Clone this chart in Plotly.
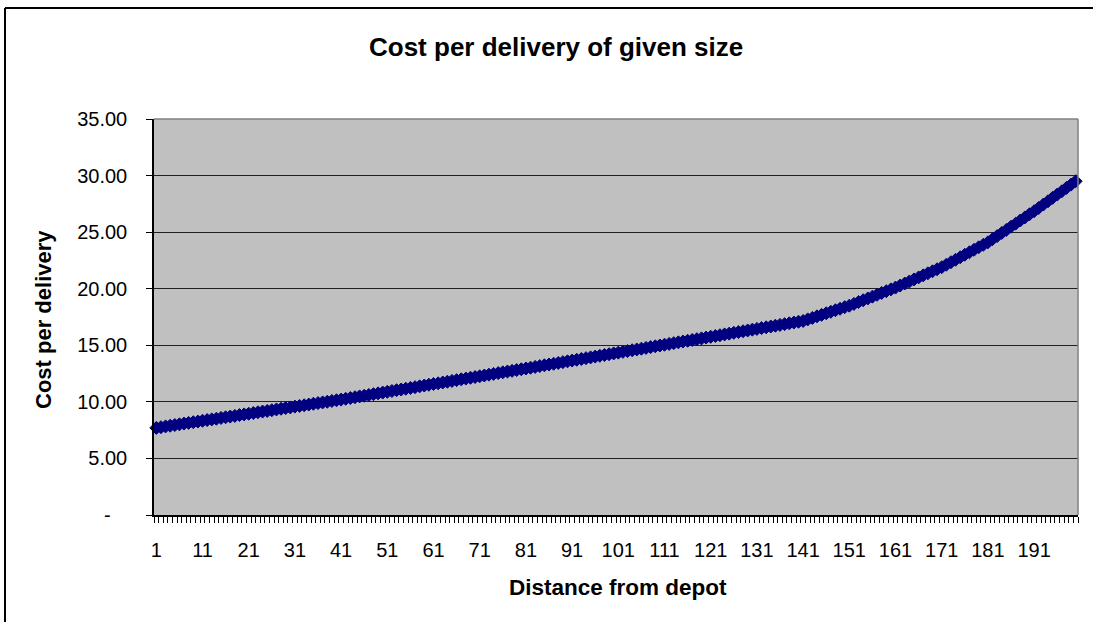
import plotly.graph_objects as go

distance = list(range(1, 201))
cost = [
    7.70, 7.76, 7.83, 7.89, 7.95, 8.01, 8.08, 8.14, 8.20, 8.26,
    8.33, 8.39, 8.45, 8.51, 8.58, 8.64, 8.70, 8.76, 8.83, 8.89,
    8.95, 9.01, 9.08, 9.14, 9.20, 9.26, 9.33, 9.39, 9.45, 9.51,
    9.58, 9.64, 9.70, 9.76, 9.83, 9.89, 9.95, 10.01, 10.08, 10.14,
    10.20, 10.27, 10.34, 10.41, 10.48, 10.54, 10.61, 10.68, 10.75, 10.82,
    10.89, 10.96, 11.03, 11.09, 11.16, 11.23, 11.30, 11.37, 11.44, 11.51,
    11.58, 11.64, 11.71, 11.78, 11.85, 11.92, 11.99, 12.06, 12.13, 12.19,
    12.26, 12.33, 12.40, 12.47, 12.54, 12.61, 12.68, 12.74, 12.81, 12.88,
    12.95, 13.02, 13.09, 13.16, 13.23, 13.30, 13.37, 13.44, 13.51, 13.58,
    13.65, 13.72, 13.79, 13.86, 13.93, 14.00, 14.07, 14.14, 14.21, 14.28,
    14.35, 14.42, 14.49, 14.56, 14.63, 14.70, 14.77, 14.84, 14.91, 14.98,
    15.05, 15.12, 15.19, 15.26, 15.33, 15.40, 15.47, 15.54, 15.61, 15.68,
    15.75, 15.82, 15.89, 15.96, 16.03, 16.10, 16.17, 16.24, 16.31, 16.38,
    16.45, 16.52, 16.59, 16.66, 16.73, 16.80, 16.87, 16.94, 17.01, 17.08,
    17.15, 17.29, 17.42, 17.56, 17.69, 17.83, 17.96, 18.10, 18.23, 18.37,
    18.50, 18.66, 18.82, 18.98, 19.14, 19.30, 19.46, 19.62, 19.78, 19.94,
    20.10, 20.28, 20.46, 20.64, 20.82, 21.00, 21.18, 21.36, 21.54, 21.72,
    21.90, 22.12, 22.34, 22.56, 22.78, 23.00, 23.22, 23.44, 23.66, 23.88,
    24.10, 24.38, 24.65, 24.93, 25.20, 25.48, 25.75, 26.03, 26.30, 26.58,
    26.85, 27.14, 27.44, 27.73, 28.03, 28.32, 28.61, 28.91, 29.20, 29.50,
]

x_tick_vals = list(range(1, 201, 10))
x_tick_text = [str(v) for v in x_tick_vals]
y_tick_vals = [0, 5, 10, 15, 20, 25, 30, 35]
y_tick_text = ["-\u00a0\u00a0\u00a0", "5.00", "10.00", "15.00", "20.00", "25.00", "30.00", "35.00"]

W, H = 1093, 622
L, R, T, B = 154, 1078, 119, 515


def px(xp):
    return (xp - L) / (R - L)


def py(yp):
    return (B - yp) / (B - T)


FONT = "Liberation Sans, Arial, sans-serif"

fig = go.Figure()
fig.add_trace(go.Scatter(
    x=distance, y=cost, mode="lines+markers",
    line=dict(color="#000080", width=2.5),
    marker=dict(symbol="diamond", size=10, color="#000080",
                line=dict(color="#000080", width=1)),
    showlegend=False, cliponaxis=False,
))

fig.update_layout(
    width=W, height=H,
    margin=dict(l=L, r=W - R, t=T, b=H - B),
    paper_bgcolor="white", plot_bgcolor="#C0C0C0",
    font=dict(family=FONT, size=20, color="black"),
    showlegend=False,
)

fig.update_xaxes(
    range=[0.5, 200.5], showgrid=False, zeroline=False,
    showline=True, linecolor="black", linewidth=1.5,
    tickmode="array", tickvals=x_tick_vals, ticktext=x_tick_text,
    ticks="outside", ticklen=16, tickcolor="rgba(0,0,0,0)",
    tickfont=dict(size=20, family=FONT),
    minor=dict(tick0=0.5, dtick=1, ticks="outside", ticklen=6,
               tickcolor="black", tickwidth=1, showgrid=False),
)
fig.update_yaxes(
    range=[0, 35], showgrid=True, gridcolor="#202020", gridwidth=1,
    zeroline=False, showline=True, linecolor="black", linewidth=1.5,
    tickmode="array", tickvals=y_tick_vals, ticktext=y_tick_text,
    ticks="outside", ticklen=6, tickcolor="black",
    tickfont=dict(size=20, family=FONT), ticklabelstandoff=15,
)

fig.add_shape(type="line", xref="paper", yref="paper",
              x0=0, x1=1, y0=1, y1=1, line=dict(color="#808080", width=1.5))
fig.add_shape(type="line", xref="paper", yref="paper",
              x0=1, x1=1, y0=0, y1=1, line=dict(color="#808080", width=1.5))
# outer chart frame (only its top and left edges fall inside the picture)
fig.add_shape(type="line", xref="paper", yref="paper",
              x0=px(5), x1=px(1093), y0=py(8), y1=py(8),
              line=dict(color="black", width=2))
fig.add_shape(type="line", xref="paper", yref="paper",
              x0=px(5), x1=px(5), y0=py(8), y1=py(622),
              line=dict(color="black", width=2))

fig.add_annotation(text="<b>Cost per delivery of given size</b>", xref="paper", yref="paper",
                   x=px(556), y=py(47), showarrow=False, xanchor="center", yanchor="middle",
                   font=dict(size=26, family=FONT))
fig.add_annotation(text="<b>Distance from depot</b>", xref="paper", yref="paper",
                   x=px(618), y=py(587), showarrow=False, xanchor="center", yanchor="middle",
                   font=dict(size=22.5, family=FONT))
fig.add_annotation(text="<b>Cost per delivery</b>", xref="paper", yref="paper",
                   x=px(43), y=py(320), showarrow=False, xanchor="center", yanchor="middle",
                   textangle=-90, font=dict(size=22, family=FONT))

fig.write_html("out.html", config={"displayModeBar": False},
               post_script="document.body.style.margin='0';document.body.style.overflow='hidden';")
